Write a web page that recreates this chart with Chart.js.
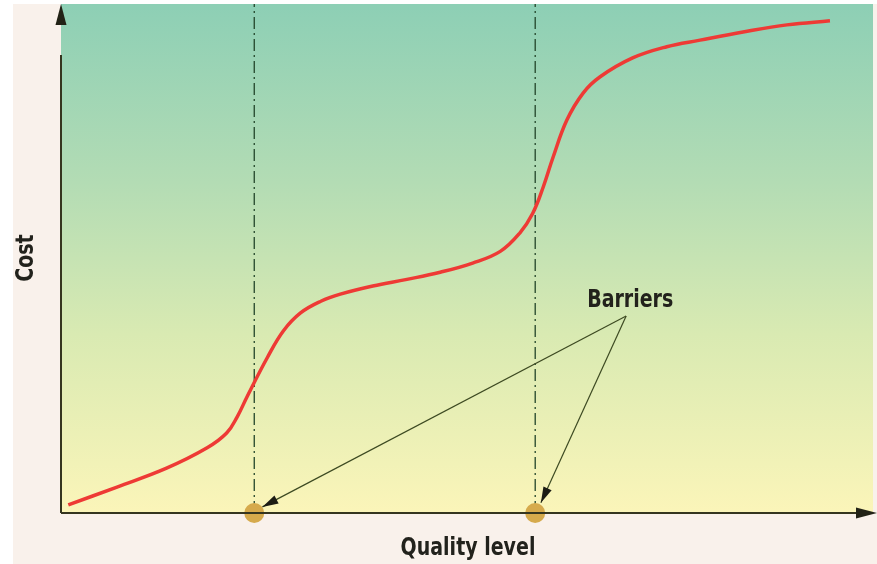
<!DOCTYPE html>
<html>
<head>
<meta charset="utf-8">
<script src="https://cdn.jsdelivr.net/npm/chart.js@4"></script>
<style>
  html, body { margin: 0; padding: 0; background: #ffffff; }
  #wrap { position: relative; width: 877px; height: 564px; }
</style>
</head>
<body>
<div id="wrap"><canvas id="costChart" width="877" height="564"></canvas></div>
<script>
// Curve (x = quality level, y = cost, both 0..100)
const qualityLevels = [0.9, 6.9, 13.0, 18.0, 20.4, 21.7, 22.9, 25.4, 27.4, 29.5, 32.0, 34.4, 38.4, 42.6, 46.7, 50.7, 54.1, 56.5, 58.1, 59.4, 60.6, 62.3, 64.3, 66.4, 70.4, 74.6, 78.7, 84.0, 89.4, 94.7];
const costValues    = [1.6, 5.1, 8.8, 12.8, 15.7, 18.9, 22.8, 30.5, 35.8, 39.3, 41.6, 43.0, 44.6, 45.9, 47.3, 49.1, 51.4, 55.0, 58.9, 64.1, 69.9, 77.2, 82.5, 85.7, 89.4, 91.6, 92.9, 94.5, 95.9, 96.7];

// Quality levels where the barriers sit
const barrierLevels = [23.8, 58.4];
const barrierLabel = 'Barriers';
const labelPoint = [70.1, 42.4];
const arrowStart = [69.6, 38.7];
const arrowEnds = [[24.8, 1.2], [59.1, 2.0]];

const xTitle = 'Quality level';
const yTitle = 'Cost';

const curveData = qualityLevels.map((x, i) => ({ x, y: costValues[i] }));
const barrierDots = barrierLevels.map(x => ({ x, y: 0 }));

const FONT = '"Liberation Sans Narrow", "DejaVu Sans Condensed", "Arial Narrow", sans-serif';

function arrowHead(ctx, x1, y1, x2, y2, len, half) {
    const a = Math.atan2(y2 - y1, x2 - x1);
    ctx.beginPath();
    ctx.moveTo(x2, y2);
    ctx.lineTo(x2 - len * Math.cos(a) + half * Math.sin(a), y2 - len * Math.sin(a) - half * Math.cos(a));
    ctx.lineTo(x2 - len * Math.cos(a) - half * Math.sin(a), y2 - len * Math.sin(a) + half * Math.cos(a));
    ctx.closePath();
    ctx.fill();
}

function narrowText(ctx, text, x, y) {
    ctx.save();
    ctx.translate(x, y);
    ctx.scale(0.88, 1.05);
    ctx.fillText(text, 0, 0);
    ctx.restore();
}

const backdrop = {
    id: 'backdrop',
    beforeDraw(chart) {
        const { ctx, chartArea: a } = chart;
        ctx.save();
        ctx.fillStyle = '#ffffff';
        ctx.fillRect(0, 0, chart.width, chart.height);
        ctx.fillStyle = '#f9f1eb';
        ctx.fillRect(13, 4, chart.width - 13, chart.height - 4);
        const g = ctx.createLinearGradient(0, a.top, 0, a.bottom);
        g.addColorStop(0, '#8dcfb5');
        g.addColorStop(0.35, '#b3dcb4');
        g.addColorStop(0.65, '#d9eab2');
        g.addColorStop(1, '#fbf5b9');
        ctx.fillStyle = g;
        ctx.fillRect(a.left, a.top, a.right - a.left, a.bottom - a.top);
        ctx.restore();
    },
    afterDatasetsDraw(chart) {
        const { ctx, chartArea: a, scales: { x, y } } = chart;
        ctx.save();
        // axes
        ctx.strokeStyle = '#35351f';
        ctx.fillStyle = '#222216';
        ctx.lineWidth = 2;
        ctx.beginPath();
        ctx.moveTo(a.left, a.bottom);
        ctx.lineTo(chart.width - 14, a.bottom);
        ctx.moveTo(a.left, a.bottom);
        ctx.lineTo(a.left, 55);
        ctx.stroke();
        arrowHead(ctx, a.left, 40, a.left, 4, 21, 5.5);
        arrowHead(ctx, 840, a.bottom, 877, a.bottom, 21, 5.5);

        // barrier arrows
        ctx.strokeStyle = '#3d4a22';
        ctx.fillStyle = '#1c1c14';
        ctx.lineWidth = 1.2;
        const sx = x.getPixelForValue(arrowStart[0]);
        const sy = y.getPixelForValue(arrowStart[1]);
        arrowEnds.forEach(([ex, ey]) => {
            const px = x.getPixelForValue(ex);
            const py = y.getPixelForValue(ey);
            ctx.beginPath();
            ctx.moveTo(sx, sy);
            ctx.lineTo(px, py);
            ctx.stroke();
            arrowHead(ctx, sx, sy, px, py, 16, 4.5);
        });

        // labels
        ctx.fillStyle = '#22221c';
        ctx.font = 'bold 24px ' + FONT;
        ctx.textAlign = 'center';
        ctx.textBaseline = 'alphabetic';
        narrowText(ctx, barrierLabel, x.getPixelForValue(labelPoint[0]), y.getPixelForValue(labelPoint[1]) + 10);
        narrowText(ctx, xTitle, 468, 555);
        ctx.translate(33, 258);
        ctx.rotate(-Math.PI / 2);
        narrowText(ctx, yTitle, 0, 0);
        ctx.restore();
    }
};

const datasets = [
    {
        data: curveData,
        showLine: true,
        borderColor: '#ee3a35',
        borderWidth: 3.5,
        pointRadius: 0,
        tension: 0.4,
        order: 1
    },
    {
        data: barrierDots,
        showLine: false,
        pointRadius: 10,
        pointBackgroundColor: '#d6aa4c',
        pointBorderWidth: 0,
        clip: false,
        order: 0
    }
];
barrierLevels.forEach(level => {
    datasets.push({
        data: [{ x: level, y: 0 }, { x: level, y: 100 }],
        showLine: true,
        borderColor: '#23452a',
        borderWidth: 1.3,
        borderDash: [12, 4, 2, 4],
        pointRadius: 0,
        order: 2
    });
});

new Chart(document.getElementById('costChart'), {
    type: 'scatter',
    data: { datasets },
    options: {
        responsive: false,
        devicePixelRatio: 1,
        animation: false,
        layout: { autoPadding: false, padding: { left: 61, right: 4, top: 4, bottom: 51 } },
        scales: {
            x: { type: 'linear', min: 0, max: 100, display: false },
            y: { type: 'linear', min: 0, max: 100, display: false }
        },
        plugins: {
            legend: { display: false },
            tooltip: { enabled: false }
        }
    },
    plugins: [backdrop]
});
</script>
</body>
</html>
